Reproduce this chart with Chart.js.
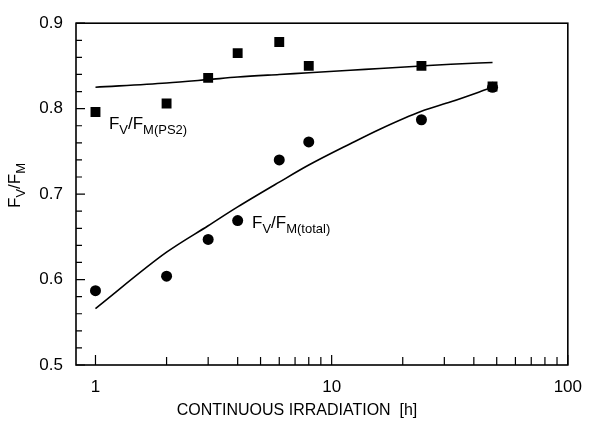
<!DOCTYPE html>
<html lang="en">
<head>
    <meta charset="UTF-8">
    <title>Fv/Fm vs irradiation</title>
    <script src="https://cdn.jsdelivr.net/npm/chart.js"></script>
    <style>
        html, body {
            margin: 0;
            padding: 0;
            background: #fff;
        }
        #wrap {
            width: 594px;
            height: 421px;
        }
    </style>
</head>
<body>
    <div id="wrap"><canvas id="chart"></canvas></div>

    <script>
        // measurement times [h]
        const hours = [1, 2, 3, 4, 6, 8, 24, 48];
        const fvfmPS2 = [0.796, 0.806, 0.836, 0.865, 0.878, 0.850, 0.850, 0.826];
        const fvfmTotal = [0.587, 0.604, 0.647, 0.669, 0.740, 0.761, 0.787, 0.825];

        // fitted curves
        const fitHours = [1, 2, 3, 4, 6, 8, 12, 16, 24, 32, 48];
        const fitPS2 = [0.825, 0.830, 0.834, 0.837, 0.840, 0.842, 0.845, 0.847, 0.850, 0.852, 0.854];
        const fitTotal = [0.566, 0.632, 0.663, 0.685, 0.714, 0.734, 0.759, 0.776, 0.797, 0.808, 0.825];

        const yTicks = [0.5, 0.6, 0.7, 0.8, 0.9];
        const yMinorTicks = [0.52, 0.54, 0.56, 0.58, 0.62, 0.64, 0.66, 0.68, 0.72, 0.74, 0.76, 0.78, 0.82, 0.84, 0.86, 0.88];
        const xTicks = [1, 10, 100];
        const xMinorTicks = [2, 3, 4, 5, 6, 7, 8, 9, 20, 30, 40, 50, 60, 70, 80, 90];

        const FONT = '"Liberation Sans", Arial, sans-serif';

        function toPoints(xs, ys) {
            return xs.map((x, i) => ({ x: x, y: ys[i] }));
        }

        // text with subscripts: parts = [[text, isSub], ...]
        function drawSubText(ctx, x, y, parts, size) {
            let cx = x;
            parts.forEach(([txt, sub]) => {
                const s = sub ? Math.round(size * 0.78) : size;
                ctx.font = s + 'px ' + FONT;
                ctx.fillText(txt, cx, sub ? y + 5 : y);
                cx += ctx.measureText(txt).width;
            });
        }

        const framePlugin = {
            id: 'frame',
            afterDraw(chart) {
                const { ctx, chartArea: a, scales } = chart;
                ctx.save();
                ctx.strokeStyle = '#000';
                ctx.lineWidth = 1.6;
                ctx.strokeRect(a.left, a.top, a.right - a.left, a.bottom - a.top);

                // inward ticks
                ctx.lineWidth = 1.2;
                ctx.beginPath();
                yTicks.forEach(v => {
                    const py = scales.y.getPixelForValue(v);
                    ctx.moveTo(a.left, py); ctx.lineTo(a.left + 9, py);
                });
                yMinorTicks.forEach(v => {
                    const py = scales.y.getPixelForValue(v);
                    ctx.moveTo(a.left, py); ctx.lineTo(a.left + 6, py);
                });
                xTicks.forEach(v => {
                    const px = scales.x.getPixelForValue(v);
                    ctx.moveTo(px, a.bottom); ctx.lineTo(px, a.bottom - 10);
                });
                xMinorTicks.forEach(v => {
                    const px = scales.x.getPixelForValue(v);
                    ctx.moveTo(px, a.bottom); ctx.lineTo(px, a.bottom - 8);
                });
                ctx.stroke();

                // series labels
                ctx.fillStyle = '#000';
                ctx.textBaseline = 'alphabetic';
                ctx.textAlign = 'left';
                drawSubText(ctx, scales.x.getPixelForValue(1.14), scales.y.getPixelForValue(0.776),
                    [['F', 0], ['V', 1], ['/F', 0], ['M(PS2)', 1]], 17);
                drawSubText(ctx, scales.x.getPixelForValue(4.6), scales.y.getPixelForValue(0.660),
                    [['F', 0], ['V', 1], ['/F', 0], ['M(total)', 1]], 17);

                // axis titles
                ctx.textAlign = 'center';
                ctx.font = '16px ' + FONT;
                ctx.fillText('CONTINUOUS IRRADIATION  [h]', 297, 415);

                ctx.translate(20, 188);
                ctx.rotate(-Math.PI / 2);
                ctx.textAlign = 'left';
                drawSubText(ctx, -20, 0, [['F', 0], ['V', 1], ['/F', 0], ['M', 1]], 17);
                ctx.restore();
            }
        };

        new Chart(document.getElementById('chart'), {
            type: 'scatter',
            data: {
                datasets: [
                    {
                        type: 'line',
                        data: toPoints(fitHours, fitPS2),
                        borderColor: '#000',
                        borderWidth: 1.6,
                        pointRadius: 0,
                        cubicInterpolationMode: 'monotone'
                    },
                    {
                        type: 'line',
                        data: toPoints(fitHours, fitTotal),
                        borderColor: '#000',
                        borderWidth: 1.6,
                        pointRadius: 0,
                        cubicInterpolationMode: 'monotone'
                    },
                    {
                        data: toPoints(hours, fvfmPS2),
                        pointStyle: 'rect',
                        pointRadius: 7,
                        backgroundColor: '#000',
                        borderWidth: 0
                    },
                    {
                        data: toPoints(hours, fvfmTotal),
                        pointStyle: 'circle',
                        pointRadius: 5.5,
                        backgroundColor: '#000',
                        borderWidth: 0
                    }
                ]
            },
            options: {
                responsive: true,
                maintainAspectRatio: false,
                animation: false,
                layout: { padding: { left: 0, right: 16, top: 14, bottom: 0 } },
                plugins: {
                    legend: { display: false },
                    tooltip: { enabled: false }
                },
                scales: {
                    x: {
                        type: 'logarithmic',
                        min: 0.827,
                        max: 100,
                        afterFit(scale) { scale.height = 56; },
                        afterBuildTicks(scale) {
                            scale.ticks = xTicks.map(v => ({ value: v }));
                        },
                        grid: { display: false, drawTicks: false },
                        border: { display: false },
                        ticks: {
                            color: '#000',
                            font: { family: FONT, size: 17 },
                            padding: 12,
                            maxRotation: 0,
                            autoSkip: false,
                            callback: v => String(v)
                        }
                    },
                    y: {
                        min: 0.5,
                        max: 0.9,
                        afterFit(scale) { scale.width = 76; },
                        afterBuildTicks(scale) {
                            scale.ticks = yTicks.map(v => ({ value: v }));
                        },
                        grid: { display: false, drawTicks: false },
                        border: { display: false },
                        ticks: {
                            color: '#000',
                            font: { family: FONT, size: 17 },
                            padding: 13,
                            callback: v => v.toFixed(1)
                        }
                    }
                }
            },
            plugins: [framePlugin]
        });
    </script>
</body>
</html>
